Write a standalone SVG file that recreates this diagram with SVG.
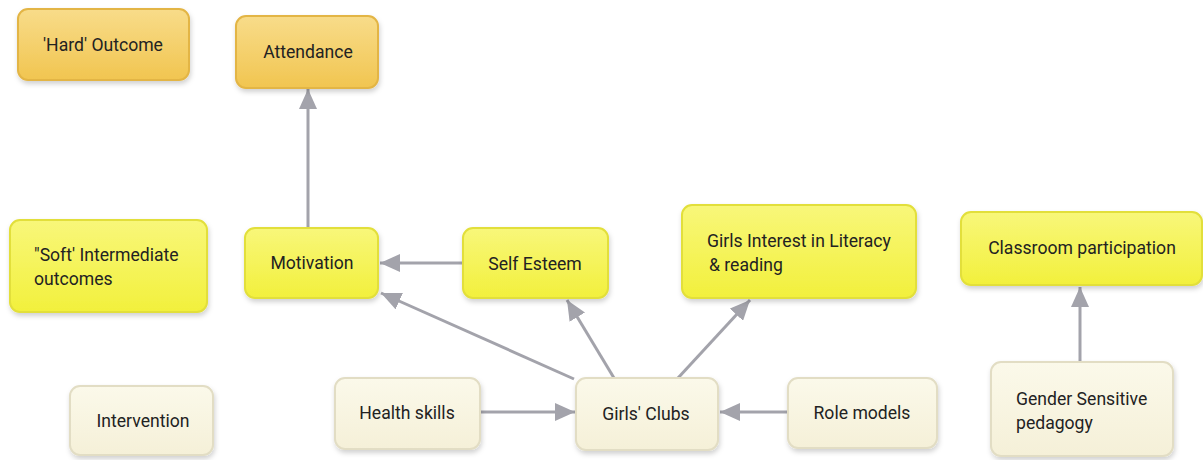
<svg xmlns="http://www.w3.org/2000/svg" width="1203" height="460" viewBox="0 0 1203 460">
<style>
text{font-family:Roboto,"Liberation Sans",sans-serif;font-size:17.6px;fill:#222;}
.c{text-anchor:middle;}
.hard{fill:url(#gHard);stroke:#e3b545;stroke-width:2;}
.soft{fill:url(#gSoft);stroke:#e2df3a;stroke-width:2;}
.int{fill:url(#gInt);stroke:#e2ddc4;stroke-width:2;}
.edge{stroke:#a3a3ab;stroke-width:3;fill:none;marker-end:url(#ah);}
</style>
<defs>
<linearGradient id="gHard" x1="0" y1="0" x2="0" y2="1"><stop offset="0" stop-color="#f8dc8a"/><stop offset="1" stop-color="#f1c550"/></linearGradient>
<linearGradient id="gSoft" x1="0" y1="0" x2="0" y2="1"><stop offset="0" stop-color="#f8f77a"/><stop offset="1" stop-color="#f2f03c"/></linearGradient>
<linearGradient id="gInt" x1="0" y1="0" x2="0" y2="1"><stop offset="0" stop-color="#fbf9ea"/><stop offset="1" stop-color="#f5f0d8"/></linearGradient>
<filter id="sh" x="-10%" y="-10%" width="125%" height="135%"><feDropShadow dx="1" dy="3" stdDeviation="2.5" flood-color="#000" flood-opacity="0.18"/></filter>
<marker id="ah" viewBox="0 0 20 18" refX="20" refY="9" markerWidth="20" markerHeight="18" markerUnits="userSpaceOnUse" orient="auto"><path d="M0,0 L20,9 L0,18 Z" fill="#a3a3ab"/></marker>
</defs>
<g id="connectors">
<line class="edge" x1="308" y1="228" x2="308" y2="89"/>
<line class="edge" x1="463" y1="263" x2="380" y2="263"/>
<line class="edge" x1="574" y1="379" x2="381" y2="293"/>
<line class="edge" x1="614" y1="378" x2="567" y2="300"/>
<line class="edge" x1="678" y1="378" x2="750" y2="300"/>
<line class="edge" x1="481" y1="412" x2="575" y2="412"/>
<line class="edge" x1="788" y1="412" x2="720" y2="412"/>
<line class="edge" x1="1080" y1="362" x2="1080" y2="287"/>
</g>
<g id="hard-outcome"><rect class="hard" filter="url(#sh)" x="18" y="9" width="171" height="71" rx="10"/><text class="c" x="103" y="51">'Hard' Outcome</text></g>
<g id="attendance"><rect class="hard" filter="url(#sh)" x="236" y="16" width="142" height="72" rx="10"/><text class="c" x="308" y="58">Attendance</text></g>
<g id="soft-intermediate"><rect class="soft" filter="url(#sh)" x="10" y="220" width="197" height="92" rx="10"/><text x="34" y="261">"Soft' Intermediate</text><text x="34" y="285">outcomes</text></g>
<g id="motivation"><rect class="soft" filter="url(#sh)" x="245" y="228" width="133" height="70" rx="10"/><text class="c" x="312" y="269">Motivation</text></g>
<g id="self-esteem"><rect class="soft" filter="url(#sh)" x="463" y="228" width="145" height="70" rx="10"/><text class="c" x="535" y="270">Self Esteem</text></g>
<g id="girls-interest"><rect class="soft" filter="url(#sh)" x="682" y="205" width="234" height="93" rx="10"/><text x="707" y="247">Girls Interest in Literacy</text><text x="709" y="271">&amp; reading</text></g>
<g id="classroom-participation"><rect class="soft" filter="url(#sh)" x="961" y="212" width="241" height="73" rx="10"/><text class="c" x="1082" y="254">Classroom participation</text></g>
<g id="intervention"><rect class="int" filter="url(#sh)" x="70" y="386" width="143" height="69" rx="10"/><text class="c" x="143" y="427">Intervention</text></g>
<g id="health-skills"><rect class="int" filter="url(#sh)" x="335" y="378" width="145" height="71" rx="10"/><text class="c" x="407" y="419">Health skills</text></g>
<g id="girls-clubs"><rect class="int" filter="url(#sh)" x="576" y="378" width="142" height="72" rx="10"/><text class="c" x="646" y="420">Girls' Clubs</text></g>
<g id="role-models"><rect class="int" filter="url(#sh)" x="788" y="378" width="149" height="70" rx="10"/><text class="c" x="862" y="419">Role models</text></g>
<g id="gender-sensitive"><rect class="int" filter="url(#sh)" x="991" y="362" width="182" height="94" rx="10"/><text x="1016" y="405">Gender Sensitive</text><text x="1016" y="429">pedagogy</text></g>
</svg>
